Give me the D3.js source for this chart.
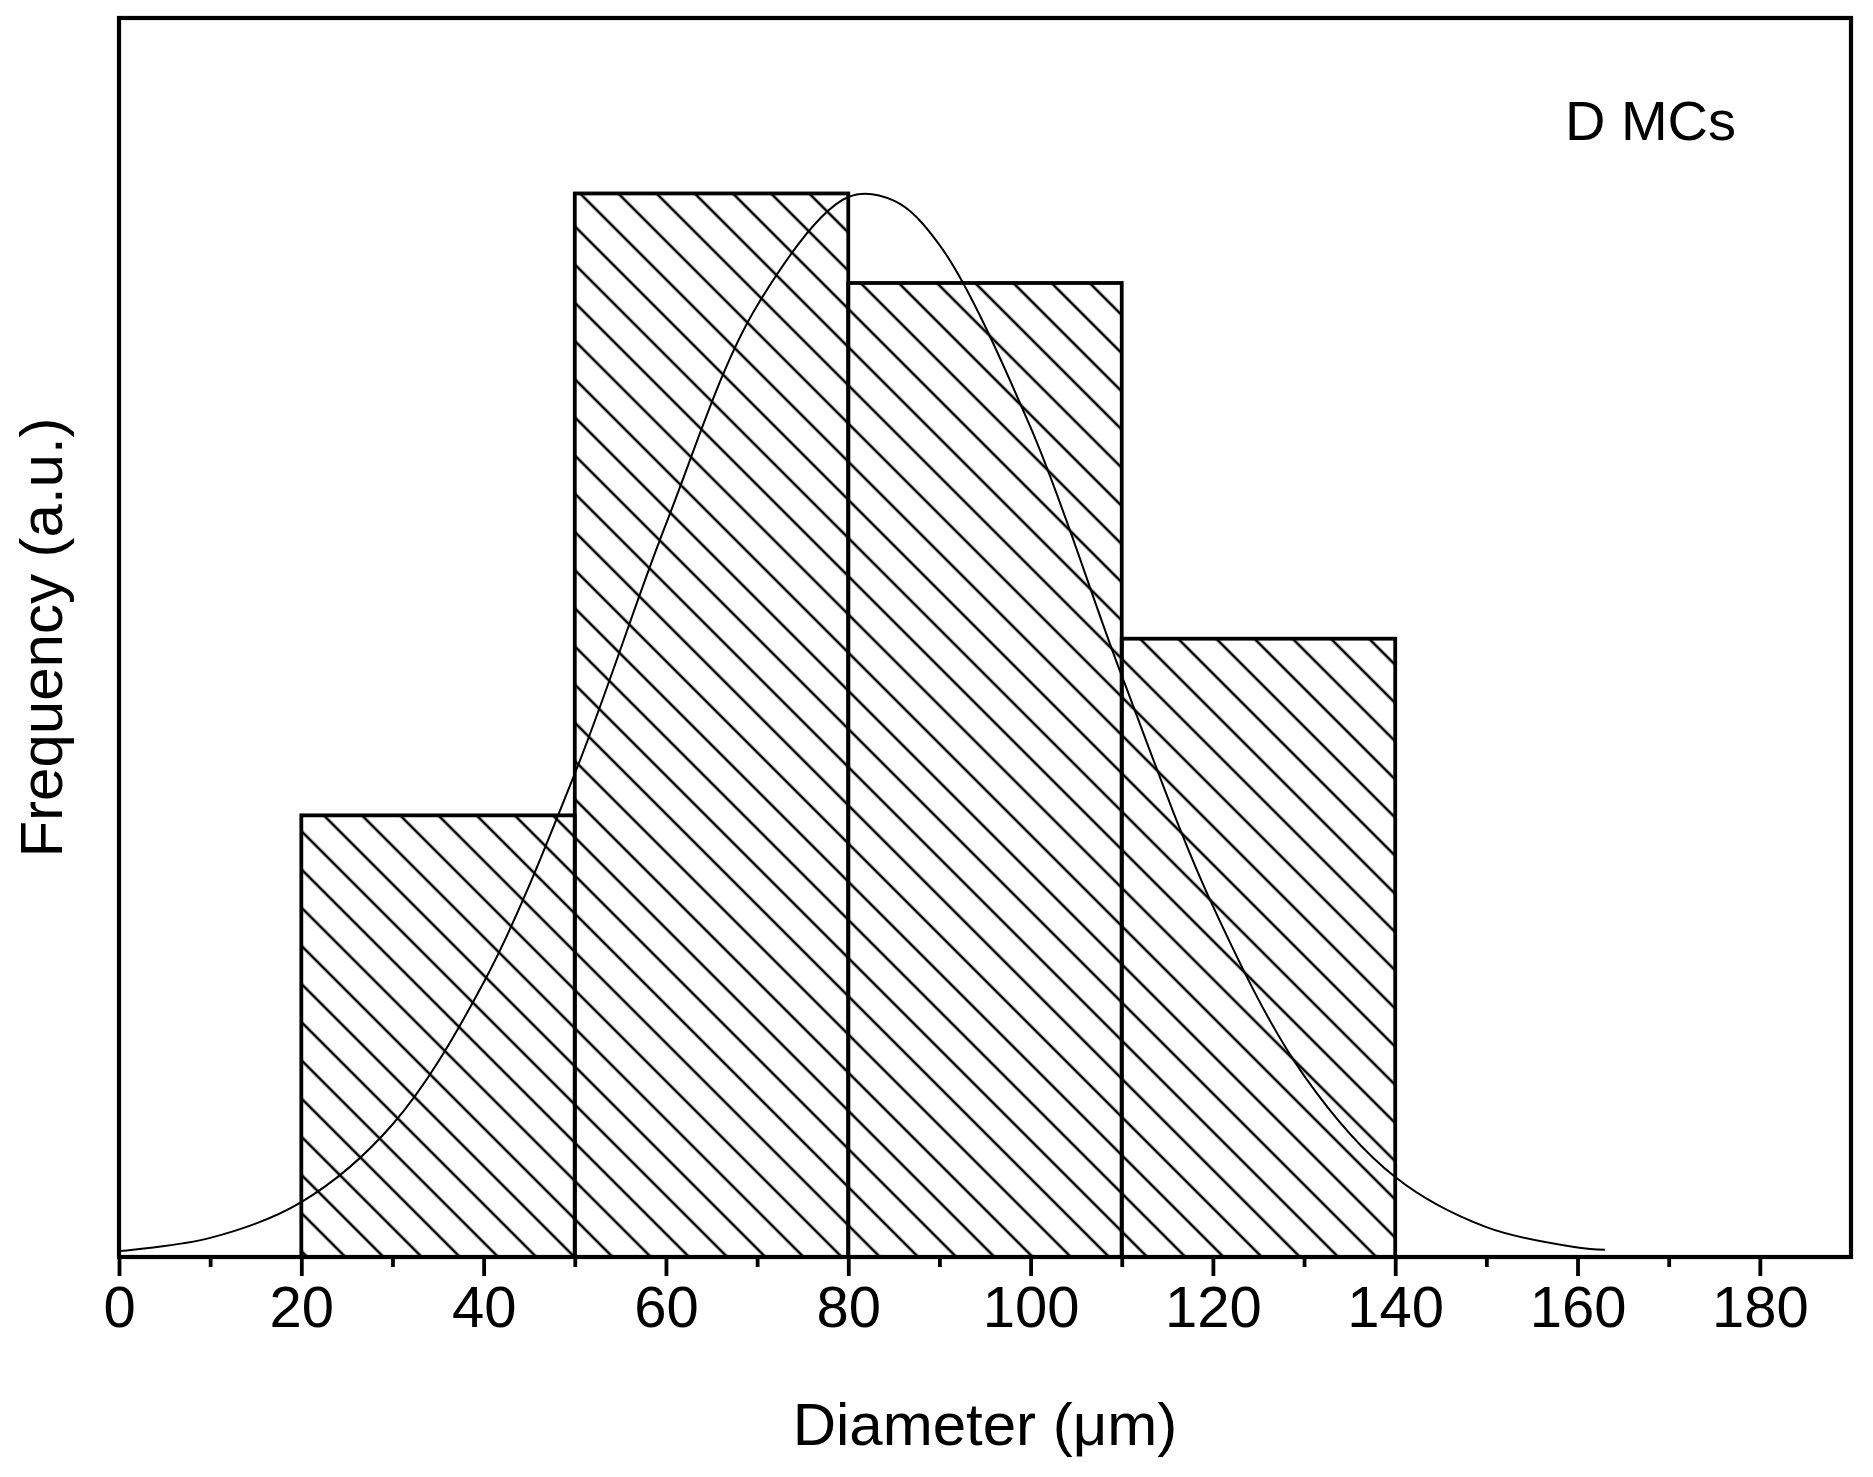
<!DOCTYPE html>
<html><head><meta charset="utf-8">
<script src="https://cdn.jsdelivr.net/npm/d3@7"></script>
<style>body{margin:0;background:#fff}text{font-family:"Liberation Sans",Arial,sans-serif;fill:#000}</style>
</head><body><svg id="chart" width="1873" height="1477"></svg>
<script>
// histogram bins (µm) and heights (a.u.)
var binStarts = [20, 50, 80, 110]
var binEnds = [50, 80, 110, 140]
var binHeights = [370, 891, 816, 518]
// fitted curve
var curveX = [0, 10, 20, 30, 40, 50, 60, 70, 80, 85, 90, 100, 110, 120, 130, 140, 150, 160, 163]
var curveY = [5, 16, 46, 111, 230, 405, 614, 797, 888, 885, 848, 695, 487, 294, 152, 67, 25, 8, 6]
var xTicks = [0, 20, 40, 60, 80, 100, 120, 140, 160, 180]

var margin = {top: 18, left: 119, right: 22, bottom: 220},
    width = 1873 - margin.left - margin.right,
    height = 1477 - margin.top - margin.bottom

var svg = d3.select('#chart')
var defs = svg.append('defs')
defs.append('pattern')
    .attr('id', 'hatch')
    .attr('patternUnits', 'userSpaceOnUse')
    .attr('width', 27).attr('height', 27)
    .attr('patternTransform', 'rotate(-45)')
  .append('line')
    .attr('x1', 13).attr('y1', 0).attr('x2', 13).attr('y2', 27)
    .attr('stroke', '#000').attr('stroke-width', 2.6)

var g = svg.append('g').attr('transform', 'translate(' + margin.left + ',' + margin.top + ')')

var x = d3.scaleLinear().domain([0, 190]).range([0, width])
var y = d3.scaleLinear().domain([0, 1038]).range([height, 0])

g.selectAll('.bar')
    .data(binStarts)
    .join('rect')
    .attr('class', 'bar')
    .attr('x', (d, i) => x(d))
    .attr('y', (d, i) => y(binHeights[i]))
    .attr('width', (d, i) => x(binEnds[i]) - x(d))
    .attr('height', (d, i) => y(0) - y(binHeights[i]))
    .attr('fill', 'url(#hatch)')
    .attr('stroke', '#000')
    .attr('stroke-width', 3.8)

var line = d3.line()
    .x(d => x(d[0]))
    .y(d => y(d[1]))
    .curve(d3.curveCatmullRom)
g.append('path')
    .datum(curveX.map((d, i) => [d, curveY[i]]))
    .attr('d', line)
    .attr('fill', 'none')
    .attr('stroke', '#000')
    .attr('stroke-width', 2)

// frame
g.append('rect')
    .attr('width', width).attr('height', height)
    .attr('fill', 'none').attr('stroke', '#000').attr('stroke-width', 4.2)

var xAxis = g.append('g')
    .attr('transform', 'translate(0,' + height + ')')
    .call(d3.axisBottom(x).tickValues(xTicks).tickSize(19).tickPadding(10))
xAxis.select('.domain').remove()
xAxis.selectAll('line').attr('stroke-width', 3.8)
xAxis.selectAll('text').style('font-size', '58px').style('font-family', '"Liberation Sans",Arial,sans-serif')

var minor = g.append('g')
    .attr('transform', 'translate(0,' + height + ')')
    .call(d3.axisBottom(x).tickValues(d3.range(10, 190, 20)).tickSize(10).tickFormat(''))
minor.select('.domain').remove()
minor.selectAll('line').attr('stroke-width', 3.8)

g.append('text')
    .attr('x', width / 2).attr('y', height + 188)
    .attr('text-anchor', 'middle')
    .style('font-size', '60px')
    .text('Diameter (μm)')

g.append('text')
    .attr('transform', 'rotate(-90)')
    .attr('x', -height / 2).attr('y', -57)
    .attr('text-anchor', 'middle')
    .style('font-size', '60px')
    .text('Frequency (a.u.)')

g.append('text')
    .attr('x', x(168)).attr('y', 122)
    .attr('text-anchor', 'middle')
    .style('font-size', '56px')
    .text('D MCs')
</script></body></html>
